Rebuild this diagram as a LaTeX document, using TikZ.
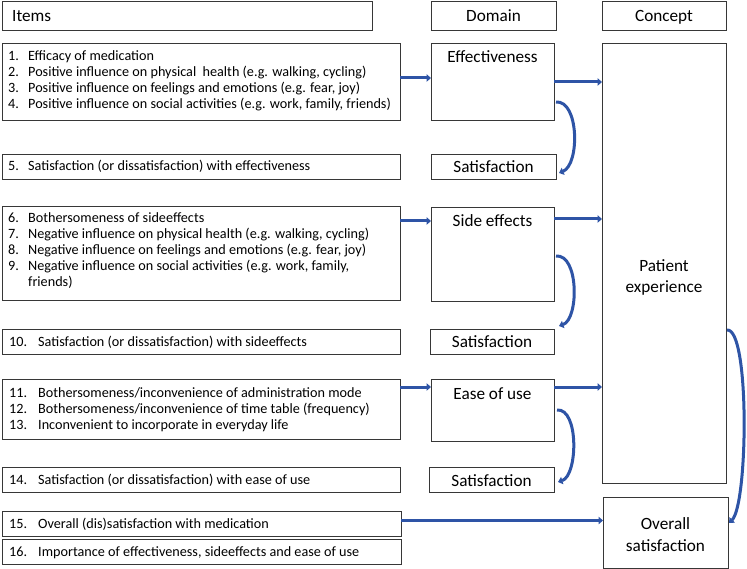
\documentclass[tikz,border=0pt]{standalone}
\usepackage{fontspec}
\setmainfont{Carlito}
\usetikzlibrary{arrows.meta,calc}
\definecolor{arr}{RGB}{46,84,166}
\definecolor{bd}{RGB}{55,55,55}
\newcommand{\itemfont}{\fontsize{14.2}{16}\selectfont}
\newcommand{\domfont}{\fontsize{17.2}{21.5}\selectfont}
\begin{document}
\begin{tikzpicture}[x=1pt,y=-1pt,
  bx/.style 2 args={draw=bd, line width=0.9pt, inner sep=0pt, outer sep=0pt, anchor=north west, minimum width=#1, minimum height=#2},
  dtext/.style={font=\domfont, inner sep=0pt, anchor=base},
  itext/.style={font=\itemfont, inner sep=0pt, anchor=base west},
  flow/.style={draw=arr, line width=3pt, -{Triangle[length=4.5pt,width=7.5pt]}}]
\useasboundingbox (0,0) rectangle (747,569);
% headers
\node[bx={370pt}{29pt}] (hI) at (2,1) {};
\node[dtext] (hIt) at ($(hI.north west)+(10,21)$) [anchor=base west] {Items};
\node[bx={125pt}{29pt}] (hD) at (431,1) {};
\node[dtext] (hDt) at ($(hD.north)+(0,21)$) {Domain};
\node[bx={124pt}{29pt}] (hC) at (602,1) {};
\node[dtext] (hCt) at ($(hC.north)+(0,21)$) {Concept};
% item boxes
\node[bx={398pt}{77pt}] (i1) at (2,43) {};
\node[itext] (i1t) at (8,61) {\begin{tabular}[t]{@{}p{20pt}@{}l@{}}
1. & Efficacy of medication\\
2. & Positive influence on physical\ \ health (e.g. walking, cycling)\\
3. & Positive influence on feelings and emotions (e.g. fear, joy)\\
4. & Positive influence on social activities (e.g. work, family, friends)
\end{tabular}};
\node[bx={398pt}{25pt}] (i5) at (2,154) {};
\node[itext] (i5t) at (8,171) {\begin{tabular}[t]{@{}p{20pt}@{}l@{}}5. & Satisfaction (or dissatisfaction) with effectiveness\end{tabular}};
\node[bx={398pt}{94pt}] (i2) at (2,206) {};
\node[itext] (i2t) at (8,223) {\begin{tabular}[t]{@{}p{20pt}@{}l@{}}
6. & Bothersomeness of sideeffects\\
7. & Negative influence on physical health (e.g. walking, cycling)\\
8. & Negative influence on feelings and emotions (e.g. fear, joy)\\
9. & Negative influence on social activities (e.g. work, family,\\
   & friends)
\end{tabular}};
\node[bx={398pt}{25pt}] (i10) at (2,329) {};
\node[itext] (i10t) at (9,346) {\begin{tabular}[t]{@{}p{29pt}@{}l@{}}10. & Satisfaction (or dissatisfaction) with sideeffects\end{tabular}};
\node[bx={398pt}{60pt}] (i3) at (2,379) {};
\node[itext] (i3t) at (9,397) {\begin{tabular}[t]{@{}p{29pt}@{}l@{}}
11. & Bothersomeness/inconvenience of administration mode\\
12. & Bothersomeness/inconvenience of time table (frequency)\\
13. & Inconvenient to incorporate in everyday life
\end{tabular}};
\node[bx={398pt}{25pt}] (i14) at (2,467) {};
\node[itext] (i14t) at (9,484) {\begin{tabular}[t]{@{}p{29pt}@{}l@{}}14. & Satisfaction (or dissatisfaction) with ease of use\end{tabular}};
\node[bx={399pt}{25pt}] (i15) at (2,511) {};
\node[itext] (i15t) at (9,528) {\begin{tabular}[t]{@{}p{29pt}@{}l@{}}15. & Overall (dis)satisfaction with medication\end{tabular}};
\node[bx={399pt}{25pt}] (i16) at (2,539) {};
\node[itext] (i16t) at (9,556) {\begin{tabular}[t]{@{}p{29pt}@{}l@{}}16. & Importance of effectiveness, sideeffects and ease of use\end{tabular}};
% domain boxes
\node[bx={123pt}{77pt}] (eff) at (431,43) {};
\node[dtext] (efft) at ($(eff.north)+(0,20)$) {Effectiveness};
\node[bx={125pt}{25pt}] (s1) at (431,154) {};
\node[dtext] (s1t) at ($(s1.north)+(0,19)$) {Satisfaction};
\node[bx={123pt}{94pt}] (se) at (431,207) {};
\node[dtext] (set) at ($(se.north)+(0,20)$) {Side effects};
\node[bx={124pt}{25pt}] (s2) at (430,329) {};
\node[dtext] (s2t) at ($(s2.north)+(0,19)$) {Satisfaction};
\node[bx={123pt}{62pt}] (eou) at (431,379) {};
\node[dtext] (eout) at ($(eou.north)+(0,20)$) {Ease of use};
\node[bx={125pt}{25pt}] (s3) at (429,467) {};
\node[dtext] (s3t) at ($(s3.north)+(0,19)$) {Satisfaction};
% concept boxes
\node[bx={124pt}{440pt}] (pe) at (602,43) {};
\node[dtext] (pet1) at ($(pe.north)+(0,229)$) {Patient};
\node[dtext] (pet2) at ($(pe.north)+(0,250)$) {experience};
\node[bx={125pt}{71pt}] (os) at (603,497) {};
\node[dtext] (ost1) at ($(os.north)+(0,32)$) {Overall};
\node[dtext] (ost2) at ($(os.north)+(0,54)$) {satisfaction};
% anchor points for arrows
\coordinate (p1) at ($(i1.east)+(0,-3.5)$);
\coordinate (p2) at ($(eff.east)+(0,0.5)$);
\coordinate (p3) at ($(i2.north east)+(0,15)$);
\coordinate (p4) at ($(se.north east)+(0,12)$);
\coordinate (p5) at ($(i3.north east)+(0,8)$);
\coordinate (p6) at ($(eou.north east)+(0,8)$);
\coordinate (p7) at ($(i15.east)+(0,-3)$);
% straight arrows
\draw[flow] (p1) -- (eff.west |- p1);
\draw[flow] (p2) -- (pe.west |- p2);
\draw[flow] (p3) -- (se.west |- p3);
\draw[flow] (p4) -- (pe.west |- p4);
\draw[flow] (p5) -- (eou.west |- p5);
\draw[flow] (p6) -- (pe.west |- p6);
\draw[flow] (p7) -- (os.west |- p7);
% curved arrows
\draw[flow] ($(eff.south east)+(2,-18)$) .. controls ($(eff.south east)+(25,-20)$) and ($(s1.east)+(24,-2)$) .. ($(s1.east)+(3,6.5)$);
\draw[flow] ($(se.south east)+(2,-45)$) .. controls ($(se.south east)+(25,-47)$) and ($(s2.north east)+(25,-10)$) .. ($(s2.north east)+(5,-3)$);
\draw[flow] ($(eou.south east)+(3,-31)$) .. controls ($(eou.south east)+(25,-33)$) and ($(s3.east)+(24,-4)$) .. ($(s3.east)+(4,2.5)$);
\draw[flow] ($(pe.east)+(1,67)$) .. controls ($(pe.east)+(24,65)$) and ($(os.east)+(20,-28)$) .. ($(os.east)+(1,-9.5)$);
\end{tikzpicture}
\end{document}
